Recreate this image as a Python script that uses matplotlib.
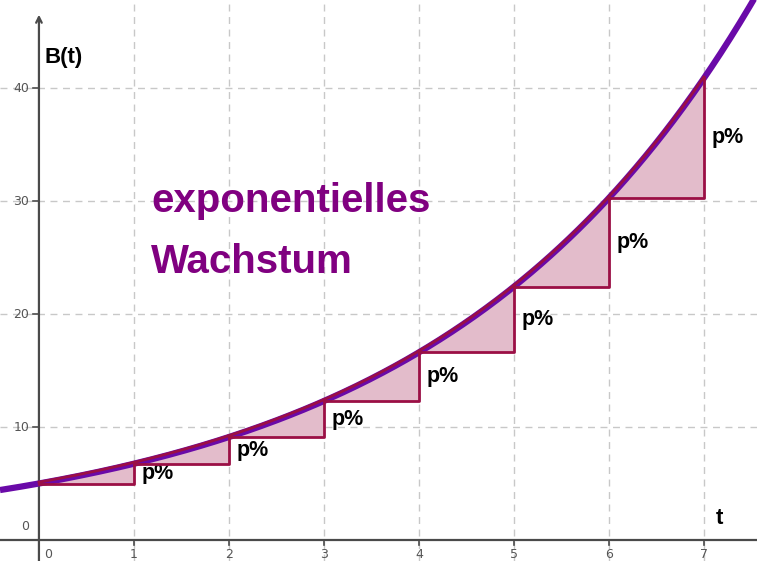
import numpy as np
import matplotlib.pyplot as plt

# values
t_steps = [0, 1, 2, 3, 4, 5, 6, 7]
b_steps = [5.0, 6.75, 9.1, 12.3, 16.6, 22.4, 30.3, 40.9]
b_start = 5.0        # B(0)
growth = 1.35        # factor per time step
x_ticks = [0, 1, 2, 3, 4, 5, 6, 7]
y_ticks = [0, 10, 20, 30, 40]

curve_col = '#6a0aa8'
tri_col = '#9b0f45'
fill_col = '#e3bccb'
grid_col = '#c8c8c8'
axis_col = '#4a4a4a'

fig = plt.figure(figsize=(7.57, 5.61), dpi=100)
ax = fig.add_axes([0, 0, 1, 1])
ax.set_xlim(-0.41, 7.56)
ax.set_ylim(-1.86, 47.8)
ax.axis('off')

# grid
for x in x_ticks[1:]:
    ax.axvline(x, color=grid_col, lw=1, ls=(0, (5, 4)), zorder=0)
for y in y_ticks[1:]:
    ax.axhline(y, color=grid_col, lw=1, ls=(0, (5, 4)), zorder=0)

# axes
ax.axhline(0, color=axis_col, lw=1.6, zorder=1)
ax.annotate('', xy=(0, 46.5), xytext=(0, -1.86),
            arrowprops=dict(arrowstyle='->', color=axis_col, lw=1.6,
                            shrinkA=0, shrinkB=0), zorder=1)

# ticks and tick labels
for x in x_ticks:
    ax.plot([x, x], [0, -0.45], color=axis_col, lw=1.2)
    ax.text(x + (0.1 if x == 0 else 0), -0.75, str(x), ha='center', va='top',
            fontsize=9, color='#555555')
for y in y_ticks[1:]:
    ax.plot([-0.065, 0], [y, y], color=axis_col, lw=1.2)
    ax.text(-0.1, y, str(y), ha='right', va='center', fontsize=9, color='#555555')
ax.text(-0.15, 0.6, '0', ha='center', va='bottom', fontsize=9, color='#555555')

# exponential curve
tt = np.linspace(-0.41, 7.56, 400)
ax.plot(tt, b_start * growth ** tt, color=curve_col, lw=4.5, zorder=3,
        solid_capstyle='butt')

# growth triangles
for i in range(len(t_steps) - 1):
    t0, t1 = t_steps[i], t_steps[i + 1]
    b0, b1 = b_steps[i], b_steps[i + 1]
    ts = np.linspace(t0, t1, 40)
    bs = b_start * growth ** ts
    px = np.concatenate([ts, [t1, t0]])
    py = np.concatenate([bs, [b0, b0]])
    ax.fill(px, py, color=fill_col, zorder=2)
    ax.plot([t0, t1, t1], [b0, b0, b1], color=tri_col, lw=2, zorder=4)
    ax.plot(ts, bs + 0.12, color=tri_col, lw=2, zorder=4)
    ax.text(t1 + 0.08, (b0 + b1) / 2, 'p%', ha='left', va='center',
            fontsize=15.5, fontweight='bold', family='Liberation Sans', color='black')

# labels
ax.text(0.06, 42.7, 'B(t)', ha='left', va='center', fontsize=16,
        fontweight='bold', family='Liberation Sans', color='black')
ax.text(7.13, 1.9, 't', ha='left', va='center', fontsize=16,
        fontweight='bold', family='Liberation Sans', color='black')
ax.text(1.18, 30.0, 'exponentielles', ha='left', va='center', fontsize=29,
        fontweight='bold', family='Liberation Sans', color='#800080')
ax.text(1.18, 24.6, 'Wachstum', ha='left', va='center', fontsize=29,
        fontweight='bold', family='Liberation Sans', color='#800080')

fig.savefig('out.png', dpi=100)
